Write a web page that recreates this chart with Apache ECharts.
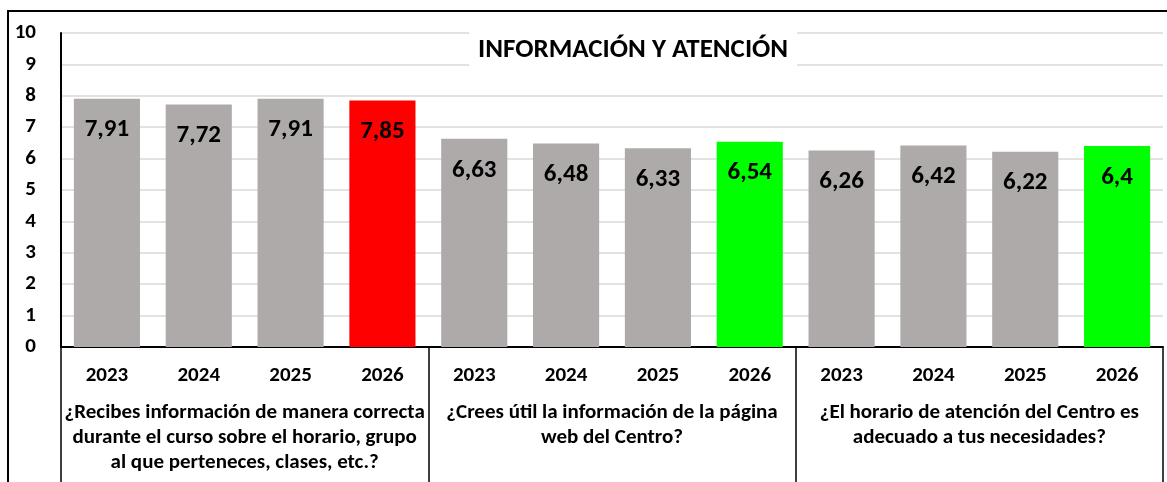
<!DOCTYPE html>
<html>
<head>
<meta charset="utf-8">
<script src="https://cdn.jsdelivr.net/npm/echarts@6/dist/echarts.min.js"></script>
<style>
  html, body { margin: 0; padding: 0; background: #fff; }
  #chart { width: 1167px; height: 482px; }
</style>
</head>
<body>
<div id="chart"></div>
<script>
// Chart data
const years = ['2023', '2024', '2025', '2026']
const questions = [
  '¿Recibes información de manera correcta\ndurante el curso sobre el horario, grupo\nal que perteneces, clases, etc.?',
  '¿Crees útil la información de la página\nweb del Centro?',
  '¿El horario de atención del Centro es\nadecuado a tus necesidades?',
]
const scoresInfo = [7.91, 7.72, 7.91, 7.85]
const scoresWeb = [6.63, 6.48, 6.33, 6.54]
const scoresHorario = [6.26, 6.42, 6.22, 6.4]
const yTicks = [0, 1, 2, 3, 4, 5, 6, 7, 8, 9, 10]

// Colours: grey for previous years, highlight for the latest one
const baseColor = '#aeaaaa'
const highlightColors = ['#ff0000', '#00ff00', '#00ff00']
const fontFamily = 'Carlito, Lato, "Open Sans", sans-serif'

const groups = [scoresInfo, scoresWeb, scoresHorario]
const xYears = []
const barData = []
groups.forEach((vals, g) => {
  vals.forEach((v, i) => {
    xYears.push(years[i])
    barData.push({
      value: v,
      itemStyle: { color: i === vals.length - 1 ? highlightColors[g] : baseColor },
    })
  })
})

const chart = echarts.init(document.getElementById('chart'))
const option = {
  animation: false,
  title: {
    text: 'INFORMACIÓN Y ATENCIÓN',
    left: 469,
    top: 32,
    padding: [5, 9],
    backgroundColor: '#fff',
    textStyle: { fontFamily, fontSize: 27, fontWeight: 'bold', color: '#000' },
  },
  grid: { left: 61, right: 4, top: 33, bottom: 135 },
  xAxis: [
    {
      type: 'category',
      data: xYears,
      position: 'bottom',
      axisLine: { show: true, lineStyle: { color: '#000', width: 2 } },
      axisTick: { show: false },
      axisLabel: {
        interval: 0,
        margin: 18,
        color: '#000',
        fontFamily,
        fontSize: 21,
        fontWeight: 'bold',
      },
    },
    {
      type: 'category',
      data: questions,
      position: 'bottom',
      axisLine: { show: false },
      axisTick: {
        show: true,
        interval: 0,
        length: 136,
        lineStyle: { color: '#000', width: 1.5 },
      },
      axisLabel: {
        interval: 0,
        margin: 53,
        verticalAlign: 'top',
        lineHeight: 25,
        color: '#000',
        fontFamily,
        fontSize: 21,
        fontWeight: 'bold',
      },
    },
  ],
  yAxis: {
    type: 'value',
    min: 0,
    max: 10,
    interval: 1,
    axisLine: { show: true, lineStyle: { color: '#000', width: 2 } },
    axisTick: { show: false },
    splitLine: { show: true, lineStyle: { color: '#d9d9d9', width: 1.5 } },
    axisLabel: {
      margin: 25,
      color: '#000',
      fontFamily,
      fontSize: 21,
      fontWeight: 'bold',
      formatter: (v) => (yTicks.includes(v) ? String(v) : ''),
    },
  },
  graphic: [
    {
      type: 'polyline',
      shape: { points: [[8, 482], [8, 11], [1167, 11]] },
      style: { stroke: '#000', lineWidth: 2, fill: null },
      silent: true,
    },
  ],
  series: [
    {
      type: 'bar',
      xAxisIndex: 0,
      data: barData,
      barWidth: '72%',
      label: {
        show: true,
        position: 'insideTop',
        distance: 19,
        color: '#000',
        fontFamily,
        fontSize: 25,
        fontWeight: 'bold',
        formatter: (p) => String(p.value).replace('.', ','),
      },
    },
  ],
}
chart.setOption(option)
</script>
</body>
</html>
